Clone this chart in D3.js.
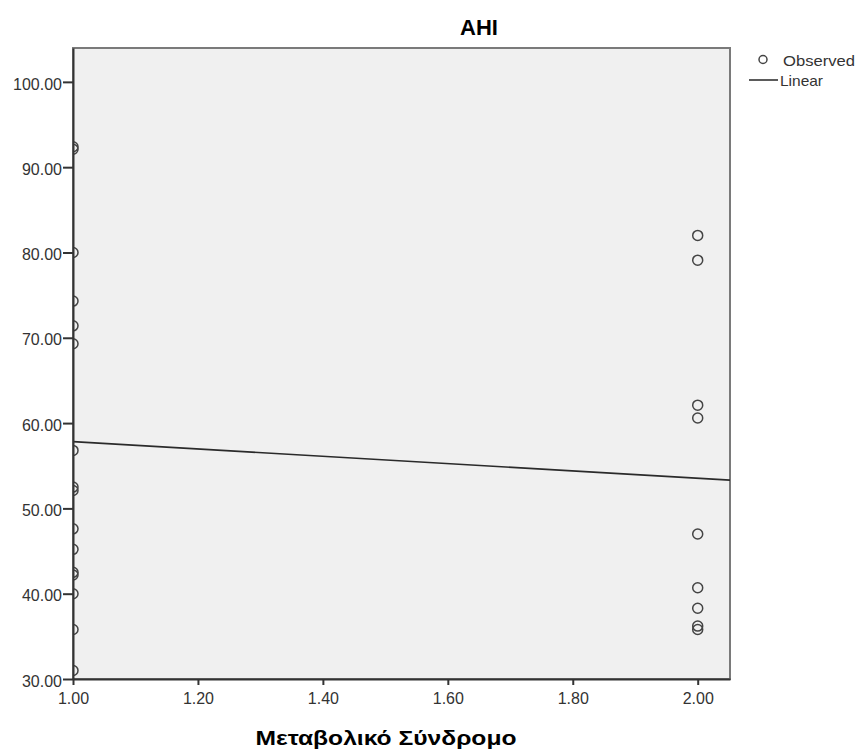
<!DOCTYPE html>
<html>
<head>
<meta charset="utf-8">
<script src="https://cdn.jsdelivr.net/npm/d3@7"></script>
<style>
  html, body { margin: 0; padding: 0; background: #fff; overflow: hidden; }
  svg { display: block; }
  text { font-family: "Liberation Sans", Arial, sans-serif; }
</style>
</head>
<body>
<div class="scatterChart"></div>
<script>
// ----- DATA ------------------------------------------------------------
const groups = [1, 2];
const ahiGroup1 = [92.4, 92.1, 80.0, 74.3, 71.4, 69.3, 56.8, 52.5, 52.1, 47.6, 45.2, 42.5, 42.2, 40.0, 35.8, 31.0];
const ahiGroup2 = [82.0, 79.1, 62.1, 60.6, 47.0, 40.7, 38.3, 36.2, 35.8];
const xTicks = [1.0, 1.2, 1.4, 1.6, 1.8, 2.0];
const yTicks = [30, 40, 50, 60, 70, 80, 90, 100];
const legendLabels = ["Observed", "Linear"];

const width = 861, height = 753;
const margin = { top: 48, right: 131, bottom: 74, left: 73 };
const innerWidth = width - margin.left - margin.right;
const innerHeight = height - margin.top - margin.bottom;

// points as {x, y}
const points = [];
ahiGroup1.forEach(v => points.push({ x: groups[0], y: v }));
ahiGroup2.forEach(v => points.push({ x: groups[1], y: v }));

// least squares fit
const mx = d3.mean(points, d => d.x), my = d3.mean(points, d => d.y);
const slope = d3.sum(points, d => (d.x - mx) * (d.y - my)) / d3.sum(points, d => (d.x - mx) * (d.x - mx));
const intercept = my - slope * mx;

let x = d3.scaleLinear().domain([1.0, 2.0517]).range([0, innerWidth]);
let y = d3.scaleLinear().domain([30, 103.97]).range([innerHeight, 0]);

let svg = d3.select(".scatterChart").append("svg")
    .attr("width", width)
    .attr("height", height);

let chart = svg.append("g")
    .attr("transform", "translate(" + margin.left + "," + margin.top + ")");

svg.append("defs").append("clipPath")
    .attr("id", "plotClip")
    .append("rect")
    .attr("width", innerWidth)
    .attr("height", innerHeight);

// plot background + border
chart.append("rect")
    .attr("width", innerWidth)
    .attr("height", innerHeight)
    .attr("fill", "#f0f0f0")
    .attr("stroke", "#7a7a7a")
    .attr("stroke-width", 2);

let plot = chart.append("g").attr("clip-path", "url(#plotClip)");

// fit line
const xEnd = x.domain()[1];
plot.append("line")
    .attr("x1", x(1.0)).attr("y1", y(intercept + slope * 1.0))
    .attr("x2", x(xEnd)).attr("y2", y(intercept + slope * xEnd))
    .attr("stroke", "#2a2a2a")
    .attr("stroke-width", 1.6);

// observed points
plot.selectAll(".pt")
    .data(points)
    .enter()
    .append("circle")
    .attr("cx", d => x(d.x))
    .attr("cy", d => y(d.y))
    .attr("r", 5)
    .attr("fill", "none")
    .attr("stroke", "#444")
    .attr("stroke-width", 1.5);

// axes
let xAxis = d3.axisBottom(x).tickValues(xTicks).tickFormat(d3.format(".2f")).tickSize(6).tickSizeOuter(0).tickPadding(8);
let yAxis = d3.axisLeft(y).tickValues(yTicks).tickFormat(d3.format(".2f")).tickSize(10).tickSizeOuter(0).tickPadding(1);

let xg = chart.append("g")
    .attr("transform", "translate(0," + innerHeight + ")")
    .call(xAxis);
let yg = chart.append("g").call(yAxis);

[xg, yg].forEach(g => {
    g.select(".domain").attr("stroke", "#333").attr("stroke-width", 2);
    g.selectAll(".tick line").attr("stroke", "#333").attr("stroke-width", 2);
    g.selectAll(".tick text")
        .attr("fill", "#333")
        .style("font-size", "16px")
        .style("font-family", "'Liberation Sans', Arial, sans-serif");
});
yg.selectAll(".tick text").attr("dy", "0.45em");

// title
svg.append("text")
    .attr("x", 479)
    .attr("y", 35)
    .attr("text-anchor", "middle")
    .style("font-size", "22px")
    .style("font-weight", "bold")
    .attr("fill", "#000")
    .text("AHI");

// x axis label
svg.append("text")
    .attr("x", 386)
    .attr("y", 745)
    .attr("text-anchor", "middle")
    .style("font-size", "21px")
    .style("font-weight", "bold")
    .attr("fill", "#000")
    .attr("textLength", 261)
    .attr("lengthAdjust", "spacingAndGlyphs")
    .text("Μεταβολικό Σύνδρομο");

// legend
let legend = svg.append("g");
legend.append("circle")
    .attr("cx", 763).attr("cy", 59.5).attr("r", 4)
    .attr("fill", "none").attr("stroke", "#444").attr("stroke-width", 1.5);
legend.append("text")
    .attr("x", 783).attr("y", 66)
    .style("font-size", "15px").attr("fill", "#333")
    .attr("textLength", 72).attr("lengthAdjust", "spacingAndGlyphs")
    .text(legendLabels[0]);
legend.append("line")
    .attr("x1", 749).attr("x2", 778).attr("y1", 80).attr("y2", 80)
    .attr("stroke", "#333").attr("stroke-width", 1.6);
legend.append("text")
    .attr("x", 780).attr("y", 86)
    .style("font-size", "15px").attr("fill", "#333")
    .attr("textLength", 43).attr("lengthAdjust", "spacingAndGlyphs")
    .text(legendLabels[1]);
</script>
</body>
</html>
